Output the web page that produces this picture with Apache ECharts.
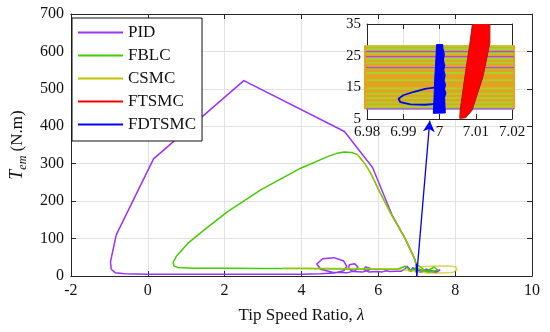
<!DOCTYPE html>
<html><head><meta charset="utf-8">
<script src="https://cdn.jsdelivr.net/npm/echarts@6/dist/echarts.min.js"></script>
<style>html,body{margin:0;padding:0;background:#fff}#c{width:550px;height:332px}</style>
</head><body><div id="c"></div>
<script>
// ---------------- DATA ----------------
const seriesNames = ['PID', 'FBLC', 'CSMC', 'FTSMC', 'FDTSMC'];
const mainXAxis = [-2, 10, 2];      // min, max, step
const mainYAxis = [0, 700, 100];
const insetXAxis = [6.98, 7.02, 0.01];
const insetYAxis = [5, 35, 10];

// main plot
const pidX = [7.0, 6.95, 6.7, 6.35, 5.85, 5.12, 2.5, 0.15, -0.82, -0.97, -0.95, -0.85, -0.6, 0, 1, 2, 3, 4, 4.5, 4.85, 5.1, 5.18, 5.1, 4.85, 4.55, 4.4, 4.5, 4.8, 5.2, 5.4, 5.47, 5.38, 5.25, 5.22, 5.35, 5.6, 5.75, 5.78, 5.66, 5.62, 5.75, 5.95, 6.0, 6.1, 6.2, 6.3, 6.45, 6.6, 6.7, 6.75, 6.85, 6.9, 7.1, 7.25, 7.45, 7.6, 7.5, 7.2, 7.0];
const pidY = [20, 45, 100, 165, 290, 386, 522, 313, 110, 38, 18, 9, 6, 5, 5, 5, 5, 5, 6, 8, 14, 26, 40, 49, 46, 32, 18, 10, 9, 14, 24, 33, 30, 20, 12, 11, 15, 21, 24, 17, 11, 12, 16, 11, 14, 12, 13, 13, 20, 26, 14, 22, 10, 18, 12, 16, 9, 14, 15];

const fblcX = [7.0, 6.92, 6.8, 6.67, 6.5, 6.32, 6.05, 5.8, 5.65, 5.53, 5.45, 5.3, 5.11, 4.9, 4.68, 3.98, 2.94, 2.08, 1.47, 1.04, 0.74, 0.66, 0.68, 0.78, 1.2, 2, 3, 4, 5, 6, 6.5, 6.7, 6.85, 7.05, 7.25, 7.45, 7.55, 7.3, 7.0, 6.8, 7.0];
const fblcY = [30, 52, 78, 105, 135, 168, 222, 275, 300, 315, 325, 330, 331, 327, 319, 288, 230, 172, 123, 87, 52, 36, 27, 23, 21, 21, 20, 20, 19, 18, 18, 26, 12, 28, 12, 24, 16, 10, 20, 14, 18];

const csmcX = [5.45, 5.53, 5.65, 5.8, 6.05, 6.32, 6.5, 6.67, 6.8, 6.92, 7.0, 7.5, 7.85, 8.02, 8.05, 7.95, 7.7, 7.3, 7.0, 6.5, 5.5, 4.5, 3.5];
const csmcY = [325, 315, 300, 275, 222, 168, 135, 105, 78, 52, 24, 27, 27, 24, 17, 10, 8, 8, 12, 19, 20, 21, 21];

const ftsmcX = [7.0, 7.0, 7.01, 7.0];
const ftsmcY = [8, 32, 20, 12];

const fdtsmcX = [7.0, 7.0, 6.99, 7.01, 7.0];
const fdtsmcY = [0, 30, 10, 15, 8];

const arrowFrom = [7.0, 2];
const arrowTo = [7.34, 415];

// inset (zoom around lambda = 7)
const insetBandX = [6.975, 7.025, 7.025, 6.975, 6.975, 7.025, 7.025, 6.975, 6.975, 7.025, 7.025, 6.975, 6.975, 7.025, 7.025, 6.975, 6.975, 7.025, 7.025, 6.975, 6.975, 7.025, 7.025, 6.975, 6.975, 7.025, 7.025, 6.975, 6.975, 7.025, 7.025, 6.975];
const insetBandY = [27.6, 27.6, 26.3, 26.3, 25.1, 25.1, 23.8, 23.8, 22.5, 22.5, 21.3, 21.3, 20.0, 20.0, 18.8, 18.8, 17.5, 17.5, 16.2, 16.2, 15.0, 15.0, 13.7, 13.7, 12.5, 12.5, 11.2, 11.2, 10.0, 10.0, 8.8, 8.8];

const insetFblcX = [6.975, 7.025, 7.025, 6.975, 6.975, 7.025, 7.025, 6.975, 6.975, 7.025, 7.025, 6.975, 6.975, 7.025, 7.025, 6.975, 6.975, 7.025, 7.025, 6.975, 6.975, 7.025, 7.025, 6.975, 6.975, 7.025, 7.025, 6.975];
const insetFblcY = [28.0, 28.0, 27.1, 27.1, 25.8, 25.8, 24.0, 24.0, 22.8, 22.8, 21.0, 21.0, 19.5, 19.5, 17.2, 17.2, 14.6, 14.6, 13.0, 13.0, 11.6, 11.6, 10.2, 10.2, 9.1, 9.1, 8.3, 8.3];

const insetPidX = [6.975, 7.025, 7.025, 6.975, 6.975, 7.025, 7.025, 6.975];
const insetPidY = [26.3, 26.3, 24.7, 24.7, 21.2, 21.2, 8.2, 8.2];

// FDTSMC: loop trajectory + solid wedge envelope
const insetFdtsmcLoopX = [6.9990, 6.9960, 6.9930, 6.9900, 6.9887, 6.9892, 6.9920, 6.9960, 6.9990];
const insetFdtsmcLoopY = [15.0, 14.5, 13.6, 12.5, 11.4, 10.3, 9.6, 9.5, 9.8];
const insetFdtsmcWedgeX = [6.9983, 7.0016, 7.0014, 7.0012, 7.0010, 7.0009, 6.9992, 6.9990, 6.9987, 6.9985];
const insetFdtsmcWedgeY = [6.8, 6.9, 12.0, 18.0, 24.0, 28.5, 28.5, 24.0, 18.0, 12.0];
const insetFdtsmcRidgeX = [7.0014, 7.0017, 7.0013, 7.0016, 7.0012, 7.0015, 7.0011, 7.0014, 7.0010, 7.0013, 7.0009];
const insetFdtsmcRidgeY = [12.0, 13.2, 14.4, 15.8, 17.2, 18.8, 20.4, 22.0, 23.6, 25.4, 27.2];

// FTSMC: solid slanted band envelope
const insetFtsmcX = [7.0056, 7.0072, 7.0090, 7.0120, 7.0139, 7.0139, 7.0092, 7.0084, 7.0070, 7.0057];
const insetFtsmcY = [5.2, 5.4, 7.8, 18.4, 29.0, 36.0, 36.0, 29.0, 18.4, 7.8];

// ---------------- STYLE ----------------
const FONT = 'Liberation Serif';
const AX = '#262626';
const GRIDC = '#e2e2e2';
const colors = { PID: '#9933ff', FBLC: '#44cc00', CSMC: '#c2c200', FTSMC: '#ff0000', FDTSMC: '#0000ff' };

const zip = (xs, ys) => xs.map((x, i) => [x, ys[i]]);

function lineSeries(name, xs, ys, opt) {
  const o = Object.assign({ color: colors[name], width: 1.5, xi: 0, z: 2, opacity: 1 }, opt || {});
  return {
    type: 'line', name, data: zip(xs, ys), xAxisIndex: o.xi, yAxisIndex: o.xi,
    symbol: 'none', showSymbol: false, clip: true, silent: true, z: o.z,
    itemStyle: { color: o.color },
    lineStyle: { color: o.color, width: o.width, opacity: o.opacity, join: 'round' },
    emphasis: { disabled: true }
  };
}

function polySeries(name, xs, ys, fill, stroke, z) {
  return {
    type: 'custom', name, xAxisIndex: 2, yAxisIndex: 2, z, silent: true, clip: true,
    data: zip(xs, ys), encode: { x: 0, y: 1 },
    itemStyle: { color: fill },
    renderItem: function (params, api) {
      if (params.dataIndex !== 0) return null;
      const pts = xs.map((x, i) => api.coord([x, ys[i]]));
      return { type: 'polygon', shape: { points: pts }, style: { fill: fill, stroke: stroke, lineWidth: 1 } };
    }
  };
}

function valAxis(grid, rng, pos, showLabel, extra) {
  return Object.assign({
    type: 'value', gridIndex: grid, min: rng[0], max: rng[1], interval: rng[2], position: pos,
    axisLine: { show: true, onZero: false, lineStyle: { color: AX, width: 1 } },
    axisTick: { show: true, inside: true, length: 5, lineStyle: { color: AX } },
    splitLine: { show: showLabel, lineStyle: { color: GRIDC, width: 1 } },
    axisLabel: { show: showLabel, color: '#111', fontFamily: FONT, fontSize: 16, margin: 7 }
  }, extra || {});
}

const insetFmt = v => String(Math.round(v * 100) / 100);

const fdtsmcMain = lineSeries('FDTSMC', fdtsmcX, fdtsmcY, { width: 1.5 });
fdtsmcMain.markLine = {
  silent: true, symbol: ['none', 'arrow'], symbolSize: [9, 11],
  label: { show: false }, emphasis: { disabled: true },
  lineStyle: { color: colors.FDTSMC, width: 1.3, type: 'solid' },
  data: [[{ coord: arrowFrom }, { coord: arrowTo }]]
};

const option = {
  animation: false,
  backgroundColor: '#fff',
  grid: [
    { left: 70, right: 18, top: 14, bottom: 56, show: false },
    { left: 367, right: 38, top: 24, bottom: 213, show: true, backgroundColor: '#fff', borderWidth: 0, z: 5 }
  ],
  legend: {
    orient: 'vertical', left: 72, top: 18,
    data: seriesNames.map(n => ({ name: n, icon: 'rect', itemStyle: { color: colors[n], opacity: 1 } })),
    backgroundColor: '#fff', borderColor: '#111', borderWidth: 1, borderRadius: 0,
    padding: [6, 6, 8, 6], itemWidth: 45, itemHeight: 2, itemGap: 6,
    textStyle: { fontFamily: FONT, fontSize: 17, color: '#111', lineHeight: 14 },
    selectedMode: false
  },
  xAxis: [
    valAxis(0, mainXAxis, 'bottom', true, {
      name: 'Tip Speed Ratio, {i|λ}', nameLocation: 'middle', nameGap: 31,
      nameTextStyle: { color: '#111', fontFamily: FONT, fontSize: 17,
        rich: { i: { fontStyle: 'italic', fontFamily: FONT, fontSize: 17, color: '#111' } } }
    }),
    valAxis(0, mainXAxis, 'top', false),
    valAxis(1, insetXAxis, 'bottom', true, { z: 6,
      axisLabel: { show: true, color: '#111', fontFamily: FONT, fontSize: 15, margin: 6, formatter: insetFmt } }),
    valAxis(1, insetXAxis, 'top', false, { z: 6 })
  ],
  yAxis: [
    valAxis(0, mainYAxis, 'left', true, {
      name: '{i|T}{s|em}{n| (N.m)}', nameLocation: 'middle', nameGap: 32, nameRotate: 90,
      nameTextStyle: { color: '#111', fontFamily: FONT, fontSize: 17,
        rich: {
          i: { fontStyle: 'italic', fontFamily: FONT, fontSize: 18, color: '#111', verticalAlign: 'top' },
          s: { fontStyle: 'italic', fontFamily: FONT, fontSize: 12, color: '#111', verticalAlign: 'top', padding: [9, 0, 0, 0] },
          n: { fontFamily: FONT, fontSize: 17, color: '#111', verticalAlign: 'top', padding: [1, 0, 0, 0] }
        } }
    }),
    valAxis(0, mainYAxis, 'right', false),
    valAxis(1, insetYAxis, 'left', true, { z: 6,
      axisLabel: { show: true, color: '#111', fontFamily: FONT, fontSize: 15, margin: 6 } }),
    valAxis(1, insetYAxis, 'right', false, { z: 6 })
  ],
  series: [
    lineSeries('PID', pidX, pidY),
    lineSeries('FBLC', fblcX, fblcY),
    lineSeries('CSMC', csmcX, csmcY, { opacity: 0.65 }),
    lineSeries('FTSMC', ftsmcX, ftsmcY),
    fdtsmcMain,
    lineSeries('CSMC', insetBandX, insetBandY, { xi: 2, z: 7, width: 4.5, color: '#e6a21e' }),
    lineSeries('FBLC', insetFblcX, insetFblcY, { xi: 2, z: 8, width: 2, color: '#a8d030' }),
    lineSeries('PID', insetPidX, insetPidY, { xi: 2, z: 9, width: 1.3, color: '#9a4dff' }),
    lineSeries('FDTSMC', insetFdtsmcLoopX, insetFdtsmcLoopY, { xi: 2, z: 10, width: 1.8 }),
    polySeries('FDTSMC', insetFdtsmcWedgeX, insetFdtsmcWedgeY, '#0000ff', '#0000ff', 10),
    lineSeries('FDTSMC', insetFdtsmcRidgeX, insetFdtsmcRidgeY, { xi: 2, z: 10, width: 1.5 }),
    polySeries('FTSMC', insetFtsmcX, insetFtsmcY, '#ff0000', '#b81000', 11)
  ]
};

const chart = echarts.init(document.getElementById('c'), null, { renderer: 'canvas' });
chart.setOption(option);
</script>
</body></html>
